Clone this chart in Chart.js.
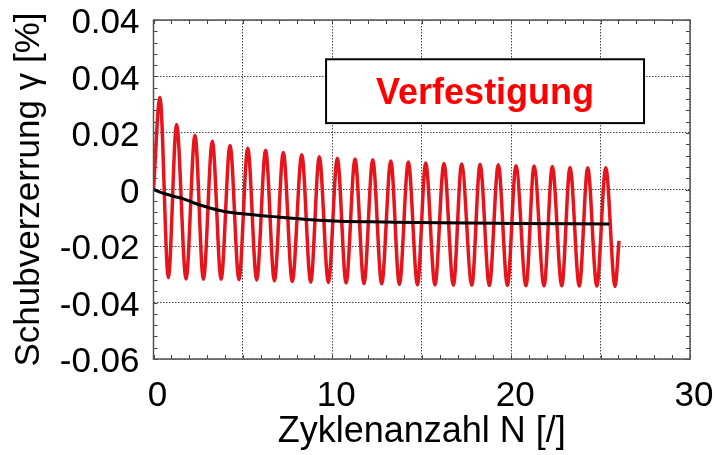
<!DOCTYPE html>
<html><head><meta charset="utf-8">
<script src="https://cdn.jsdelivr.net/npm/chart.js@4"></script>
<style>html,body{margin:0;padding:0;background:#fff}#c{display:block}</style>
</head><body>
<canvas id="c" width="717" height="455"></canvas>
<script>
// ---- data ----
const xTickValues = [0, 5, 10, 15, 20, 25, 30];
const xTickLabels = ['0', '', '10', '', '20', '', '30'];
const yTickValues = [-0.06, -0.04, -0.02, 0, 0.02, 0.04, 0.06];
const yTickLabels = ['-0.06', '-0.04', '-0.02', '0', '0.02', '0.04', '0.04'];

// red curve: start, peaks, troughs, end
const startN = 0, startVal = 0;
const peakN = [0.36, 1.29, 2.32, 3.29, 4.28, 5.27, 6.27, 7.26, 8.29, 9.27, 10.28, 11.27, 12.26,
  13.27, 14.25, 15.22, 16.24, 17.23, 18.26, 19.28, 20.27, 21.28, 22.30, 23.29, 24.28, 25.29];
const peakVal = [0.0326, 0.0230, 0.0192, 0.0171, 0.0156, 0.0146, 0.0139, 0.0131, 0.0123, 0.0116,
  0.0111, 0.0108, 0.0105, 0.0101, 0.0097, 0.0094, 0.0092, 0.0090, 0.0089, 0.0088, 0.0084, 0.0083,
  0.0081, 0.0078, 0.0077, 0.0077];
const troughN = [0.83, 1.82, 2.79, 3.78, 4.78, 5.77, 6.76, 7.76, 8.79, 9.78, 10.77, 11.77, 12.76,
  13.75, 14.76, 15.74, 16.77, 17.80, 18.78, 19.79, 20.83, 21.84, 22.83, 23.81, 24.79, 25.81];
const troughVal = [-0.0312, -0.0317, -0.0318, -0.0318, -0.0319, -0.0320, -0.0323, -0.0326, -0.0328,
  -0.0329, -0.0331, -0.0333, -0.0334, -0.0336, -0.0337, -0.0338, -0.0339, -0.0339, -0.0340, -0.0340,
  -0.0341, -0.0341, -0.0341, -0.0342, -0.0342, -0.0343];
const endN = 26.03, endVal = -0.0182;

// black curve (mean strain)
const meanN = [0, 0.36, 0.74, 1.11, 1.67, 2.23, 2.97, 3.9, 4.84, 6.7, 8.57, 10.43, 13, 16, 20, 25.48];
const meanVal = [0, -0.0009, -0.0017, -0.0024, -0.0033, -0.0047, -0.0062, -0.0077, -0.0085, -0.0096,
  -0.0106, -0.0112, -0.0115, -0.0118, -0.0120, -0.0122];

const annotationText = 'Verfestigung';
const xTitle = 'Zyklenanzahl N [/]';
const yTitle = 'Schubverzerrung \u03b3 [%]';

// ---- build datasets ----
const redPts = [{x: startN, y: startVal}];
for (let i = 0; i < peakN.length; i++) {
  redPts.push({x: peakN[i], y: peakVal[i]});
  redPts.push({x: troughN[i], y: troughVal[i]});
}
redPts.push({x: endN, y: endVal});
const meanPts = meanN.map((n, i) => ({x: n, y: meanVal[i]}));

const FONT = "'Liberation Sans', Arial, sans-serif";

const decorPlugin = {
  id: 'decor',
  beforeDatasetsDraw(chart) {
    const {ctx, chartArea: a, scales: {x, y}} = chart;
    ctx.save();
    ctx.strokeStyle = '#444';
    ctx.lineWidth = 1;
    const L = 4;
    ctx.beginPath();
    for (let i = 0; i <= 30; i++) {
      const px = Math.round(x.getPixelForValue(i)) + 0.5;
      ctx.moveTo(px, a.bottom); ctx.lineTo(px, a.bottom - L);
      ctx.moveTo(px, a.top); ctx.lineTo(px, a.top + L);
    }
    for (let i = 0; i <= 30; i++) {
      const py = Math.round(y.getPixelForValue(-0.06 + i * 0.004)) + 0.5;
      ctx.moveTo(a.left, py); ctx.lineTo(a.left + L, py);
      ctx.moveTo(a.right, py); ctx.lineTo(a.right - L, py);
    }
    ctx.stroke();
    ctx.restore();
  },
  afterDatasetsDraw(chart) {
    const {ctx, chartArea: a, scales: {x, y}} = chart;
    ctx.save();
    // frame
    ctx.strokeStyle = '#555';
    ctx.lineWidth = 1.5;
    ctx.strokeRect(a.left, a.top, a.right - a.left, a.bottom - a.top);
    // annotation box
    const x1 = x.getPixelForValue(9.65), x2 = x.getPixelForValue(27.43);
    const y1 = y.getPixelForValue(0.0461), y2 = y.getPixelForValue(0.0235);
    ctx.fillStyle = '#fff';
    ctx.fillRect(x1, y1, x2 - x1, y2 - y1);
    ctx.strokeStyle = '#000';
    ctx.lineWidth = 2;
    ctx.strokeRect(x1, y1, x2 - x1, y2 - y1);
    ctx.fillStyle = '#f00';
    ctx.font = 'bold 36px ' + FONT;
    ctx.textAlign = 'center';
    ctx.textBaseline = 'alphabetic';
    ctx.fillText(annotationText, (x1 + x2) / 2, (y1 + y2) / 2 + 0.716 * 36 / 2);
    ctx.restore();
  }
};

new Chart(document.getElementById('c'), {
  type: 'scatter',
  data: {
    datasets: [
      {data: meanPts, showLine: true, borderColor: '#000', borderWidth: 3, pointRadius: 0,
       cubicInterpolationMode: 'monotone', order: 0},
      {data: redPts, showLine: true, borderColor: '#e8141b', borderWidth: 3.5, pointRadius: 0,
       cubicInterpolationMode: 'monotone', order: 1}
    ]
  },
  options: {
    responsive: false,
    animation: false,
    devicePixelRatio: 1,
    layout: {padding: {top: 20, right: 27, left: 0, bottom: 0}},
    plugins: {legend: {display: false}, tooltip: {enabled: false}},
    scales: {
      x: {
        type: 'linear', min: 0, max: 30,
        afterFit: s => { s.height = 96; s.paddingLeft = 0; s.paddingRight = 0; },
        afterBuildTicks: s => { s.ticks = xTickValues.map(v => ({value: v})); },
        grid: {color: '#444', lineWidth: 1, drawTicks: false},
        border: {display: false, dash: [1.5, 1.5]},
        ticks: {
          autoSkip: false, maxRotation: 0, padding: 20, labelOffset: 4, color: '#000',
          font: {family: FONT, size: 35, lineHeight: 1},
          callback: (v, i) => xTickLabels[i]
        },
        title: {display: true, text: xTitle, color: '#000',
          font: {family: FONT, size: 36, lineHeight: 1}, padding: {top: 0, bottom: 4.5}}
      },
      y: {
        type: 'linear', min: -0.06, max: 0.06,
        afterFit: s => { s.width = 153.5; s.paddingTop = 0; s.paddingBottom = 0; },
        afterBuildTicks: s => { s.ticks = yTickValues.map(v => ({value: v})); },
        grid: {color: '#444', lineWidth: 1, drawTicks: false},
        border: {display: false, dash: [1.5, 1.5]},
        ticks: {
          padding: 14, labelOffset: 3.5, color: '#000',
          font: {family: FONT, size: 35, lineHeight: 1},
          callback: (v, i) => yTickLabels[i]
        },
        title: {display: true, text: yTitle, color: '#000',
          font: {family: FONT, size: 35, lineHeight: 1}, padding: {top: 12, bottom: 0}}
      }
    }
  },
  plugins: [decorPlugin]
});
</script>
</body></html>
